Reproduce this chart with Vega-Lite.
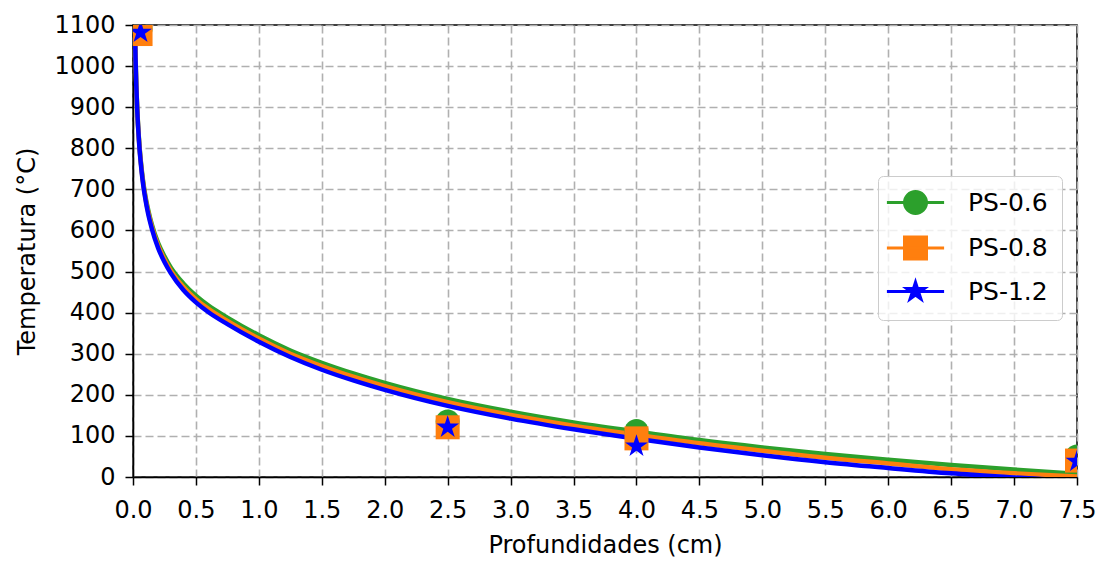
{
  "$schema": "https://vega.github.io/schema/vega-lite/v6.json",
  "autosize": {"type": "none"},
  "width": 944,
  "height": 452,
  "padding": {"left": 133, "top": 25, "right": 22, "bottom": 84},
  "background": "white",
  "config": {
    "font": "DejaVu Sans",
    "view": {"stroke": "black", "strokeWidth": 1.5},
    "axis": {
      "domainColor": "black", "domainWidth": 1.5,
      "tickColor": "black", "tickWidth": 1.5, "tickSize": 8,
      "labelFont": "DejaVu Sans", "labelFontSize": 24, "labelColor": "black",
      "titleFont": "DejaVu Sans", "titleFontSize": 24, "titleFontWeight": "normal", "titleColor": "black",
      "gridColor": "#b0b0b0", "gridDash": [8, 4], "gridWidth": 1.6, "gridOpacity": 1
    }
  },
  "datasets": {
    "curves": [
      {"x": 0.0148, "T": 1100, "s": "PS-0.6"}, {"x": 0.016, "T": 1079, "s": "PS-0.6"}, {"x": 0.02, "T": 1020, "s": "PS-0.6"}, {"x": 0.026, "T": 955, "s": "PS-0.6"}, {"x": 0.033, "T": 900, "s": "PS-0.6"}, {"x": 0.04, "T": 858, "s": "PS-0.6"}, {"x": 0.05, "T": 812, "s": "PS-0.6"}, {"x": 0.065, "T": 760, "s": "PS-0.6"}, {"x": 0.08, "T": 721, "s": "PS-0.6"}, {"x": 0.1, "T": 681, "s": "PS-0.6"}, {"x": 0.12, "T": 651, "s": "PS-0.6"}, {"x": 0.15, "T": 614, "s": "PS-0.6"}, {"x": 0.2, "T": 569, "s": "PS-0.6"}, {"x": 0.25, "T": 537, "s": "PS-0.6"}, {"x": 0.3, "T": 510, "s": "PS-0.6"}, {"x": 0.4, "T": 471, "s": "PS-0.6"}, {"x": 0.5, "T": 441, "s": "PS-0.6"}, {"x": 0.6, "T": 417, "s": "PS-0.6"}, {"x": 0.75, "T": 388, "s": "PS-0.6"}, {"x": 1.0, "T": 345, "s": "PS-0.6"}, {"x": 1.25, "T": 308, "s": "PS-0.6"}, {"x": 1.5, "T": 278, "s": "PS-0.6"}, {"x": 1.75, "T": 252, "s": "PS-0.6"}, {"x": 2.0, "T": 229, "s": "PS-0.6"}, {"x": 2.5, "T": 190, "s": "PS-0.6"}, {"x": 3.0, "T": 159, "s": "PS-0.6"}, {"x": 3.5, "T": 133, "s": "PS-0.6"}, {"x": 4.0, "T": 111, "s": "PS-0.6"}, {"x": 4.5, "T": 90, "s": "PS-0.6"}, {"x": 5.0, "T": 72, "s": "PS-0.6"}, {"x": 5.5, "T": 56, "s": "PS-0.6"}, {"x": 6.0, "T": 42, "s": "PS-0.6"}, {"x": 6.5, "T": 29, "s": "PS-0.6"}, {"x": 7.0, "T": 18, "s": "PS-0.6"}, {"x": 7.5, "T": 8, "s": "PS-0.6"},
      {"x": 0.0148, "T": 1100, "s": "PS-0.8"}, {"x": 0.016, "T": 1079, "s": "PS-0.8"}, {"x": 0.02, "T": 1020, "s": "PS-0.8"}, {"x": 0.026, "T": 954, "s": "PS-0.8"}, {"x": 0.033, "T": 898, "s": "PS-0.8"}, {"x": 0.04, "T": 856, "s": "PS-0.8"}, {"x": 0.05, "T": 809, "s": "PS-0.8"}, {"x": 0.065, "T": 757, "s": "PS-0.8"}, {"x": 0.08, "T": 717, "s": "PS-0.8"}, {"x": 0.1, "T": 677, "s": "PS-0.8"}, {"x": 0.12, "T": 646, "s": "PS-0.8"}, {"x": 0.15, "T": 609, "s": "PS-0.8"}, {"x": 0.2, "T": 563, "s": "PS-0.8"}, {"x": 0.25, "T": 530, "s": "PS-0.8"}, {"x": 0.3, "T": 503, "s": "PS-0.8"}, {"x": 0.4, "T": 463, "s": "PS-0.8"}, {"x": 0.5, "T": 433, "s": "PS-0.8"}, {"x": 0.6, "T": 409, "s": "PS-0.8"}, {"x": 0.75, "T": 380, "s": "PS-0.8"}, {"x": 1.0, "T": 337, "s": "PS-0.8"}, {"x": 1.25, "T": 300, "s": "PS-0.8"}, {"x": 1.5, "T": 270, "s": "PS-0.8"}, {"x": 1.75, "T": 244, "s": "PS-0.8"}, {"x": 2.0, "T": 221, "s": "PS-0.8"}, {"x": 2.5, "T": 182, "s": "PS-0.8"}, {"x": 3.0, "T": 151, "s": "PS-0.8"}, {"x": 3.5, "T": 125, "s": "PS-0.8"}, {"x": 4.0, "T": 103, "s": "PS-0.8"}, {"x": 4.5, "T": 82, "s": "PS-0.8"}, {"x": 5.0, "T": 64, "s": "PS-0.8"}, {"x": 5.5, "T": 47, "s": "PS-0.8"}, {"x": 6.0, "T": 33, "s": "PS-0.8"}, {"x": 6.5, "T": 19, "s": "PS-0.8"}, {"x": 7.0, "T": 9, "s": "PS-0.8"}, {"x": 7.5, "T": 1, "s": "PS-0.8"},
      {"x": 0.0148, "T": 1100, "s": "PS-1.2"}, {"x": 0.016, "T": 1079, "s": "PS-1.2"}, {"x": 0.02, "T": 1020, "s": "PS-1.2"}, {"x": 0.026, "T": 953, "s": "PS-1.2"}, {"x": 0.033, "T": 896, "s": "PS-1.2"}, {"x": 0.04, "T": 854, "s": "PS-1.2"}, {"x": 0.05, "T": 806, "s": "PS-1.2"}, {"x": 0.065, "T": 754, "s": "PS-1.2"}, {"x": 0.08, "T": 713, "s": "PS-1.2"}, {"x": 0.1, "T": 673, "s": "PS-1.2"}, {"x": 0.12, "T": 641, "s": "PS-1.2"}, {"x": 0.15, "T": 604, "s": "PS-1.2"}, {"x": 0.2, "T": 557, "s": "PS-1.2"}, {"x": 0.25, "T": 523, "s": "PS-1.2"}, {"x": 0.3, "T": 496, "s": "PS-1.2"}, {"x": 0.4, "T": 455, "s": "PS-1.2"}, {"x": 0.5, "T": 425, "s": "PS-1.2"}, {"x": 0.6, "T": 401, "s": "PS-1.2"}, {"x": 0.75, "T": 372, "s": "PS-1.2"}, {"x": 1.0, "T": 329, "s": "PS-1.2"}, {"x": 1.25, "T": 292, "s": "PS-1.2"}, {"x": 1.5, "T": 261, "s": "PS-1.2"}, {"x": 1.75, "T": 235, "s": "PS-1.2"}, {"x": 2.0, "T": 212, "s": "PS-1.2"}, {"x": 2.5, "T": 173, "s": "PS-1.2"}, {"x": 3.0, "T": 142, "s": "PS-1.2"}, {"x": 3.5, "T": 116, "s": "PS-1.2"}, {"x": 4.0, "T": 93, "s": "PS-1.2"}, {"x": 4.5, "T": 72, "s": "PS-1.2"}, {"x": 5.0, "T": 53, "s": "PS-1.2"}, {"x": 5.5, "T": 36, "s": "PS-1.2"}, {"x": 6.0, "T": 22, "s": "PS-1.2"}, {"x": 6.5, "T": 9, "s": "PS-1.2"}, {"x": 7.0, "T": -1, "s": "PS-1.2"}, {"x": 7.5, "T": -10, "s": "PS-1.2"}
    ],
    "measured": [
      {"x": 0.06, "T": 1090, "s": "PS-0.6"}, {"x": 2.5, "T": 135, "s": "PS-0.6"}, {"x": 4.0, "T": 112, "s": "PS-0.6"}, {"x": 7.5, "T": 50, "s": "PS-0.6"},
      {"x": 0.06, "T": 1078, "s": "PS-0.8"}, {"x": 2.5, "T": 121, "s": "PS-0.8"}, {"x": 4.0, "T": 94, "s": "PS-0.8"}, {"x": 7.5, "T": 40, "s": "PS-0.8"},
      {"x": 0.06, "T": 1082, "s": "PS-1.2"}, {"x": 2.5, "T": 121, "s": "PS-1.2"}, {"x": 4.0, "T": 75, "s": "PS-1.2"}, {"x": 7.5, "T": 38, "s": "PS-1.2"}
    ]
  },
  "encoding": {
    "x": {
      "field": "x", "type": "quantitative",
      "scale": {"domain": [0, 7.5], "nice": false, "zero": false},
      "axis": {"title": "Profundidades (cm)", "values": [0, 0.5, 1, 1.5, 2, 2.5, 3, 3.5, 4, 4.5, 5, 5.5, 6, 6.5, 7, 7.5], "format": ".1f", "labelPadding": 13, "titlePadding": 11, "labelFlush": false, "labelOverlap": false}
    },
    "y": {
      "field": "T", "type": "quantitative",
      "scale": {"domain": [0, 1100], "nice": false},
      "axis": {"title": "Temperatura (°C)", "values": [0, 100, 200, 300, 400, 500, 600, 700, 800, 900, 1000, 1100], "format": "d", "labelPadding": 10, "titlePadding": 14, "labelFlush": false, "labelOverlap": false}
    },
    "color": {
      "field": "s", "type": "nominal",
      "scale": {"domain": ["PS-0.6", "PS-0.8", "PS-1.2"], "range": ["#2ca02c", "#ff7f0e", "#0000ff"]},
      "legend": {
        "title": null, "orient": "none", "legendX": 745, "legendY": 151,
        "symbolSize": 484, "symbolStrokeWidth": 3,
        "labelFont": "DejaVu Sans", "labelFontSize": 25, "labelColor": "black",
        "rowPadding": 10.5, "padding": 14, "symbolOffset": 11, "labelOffset": 40,
        "strokeColor": "#cccccc", "fillColor": "rgba(255,255,255,0.8)", "cornerRadius": 5,
        "encode": {
          "symbols": {
            "update": {
              "shape": {"signal": "datum.value === 'PS-0.6' ? 'M-2.6,0H2.6M1,0A1,1 0 1 1 -1,0A1,1 0 1 1 1,0Z' : datum.value === 'PS-0.8' ? 'M-2.6,0H2.6M-1,-1H1V1H-1Z' : 'M-2.6,0H2.6M0,-0.85L0.191,-0.263L0.808,-0.263L0.309,0.1L0.5,0.688L0,0.325L-0.5,0.688L-0.309,0.1L-0.808,-0.263L-0.191,-0.263Z'"},
              "fill": {"scale": "color", "field": "value"},
              "stroke": {"scale": "color", "field": "value"},
              "fillOpacity": {"value": 1},
              "strokeOpacity": {"value": 1},
              "opacity": {"value": 1},
              "strokeWidth": {"value": 3}
            }
          }
        }
      }
    }
  },
  "layer": [
    {
      "data": {"name": "curves"},
      "mark": {"type": "line", "interpolate": "monotone", "strokeWidth": 4.5, "clip": true},
      "encoding": {}
    },
    {
      "data": {"name": "measured"},
      "transform": [{"filter": {"field": "s", "equal": "PS-0.6"}}],
      "mark": {"type": "point", "shape": "circle", "filled": true, "opacity": 1, "size": 576, "clip": true},
      "encoding": {}
    },
    {
      "data": {"name": "measured"},
      "transform": [{"filter": {"field": "s", "equal": "PS-0.8"}}],
      "mark": {"type": "point", "shape": "square", "filled": true, "opacity": 1, "size": 576, "clip": true},
      "encoding": {}
    },
    {
      "data": {"name": "measured"},
      "transform": [{"filter": {"field": "s", "equal": "PS-1.2"}}],
      "mark": {"type": "point", "shape": "M0,-1L0.2245,-0.309L0.9511,-0.309L0.3633,0.118L0.5878,0.809L0,0.382L-0.5878,0.809L-0.3633,0.118L-0.9511,-0.309L-0.2245,-0.309Z", "filled": true, "opacity": 1, "size": 576, "clip": true},
      "encoding": {}
    }
  ]
}
